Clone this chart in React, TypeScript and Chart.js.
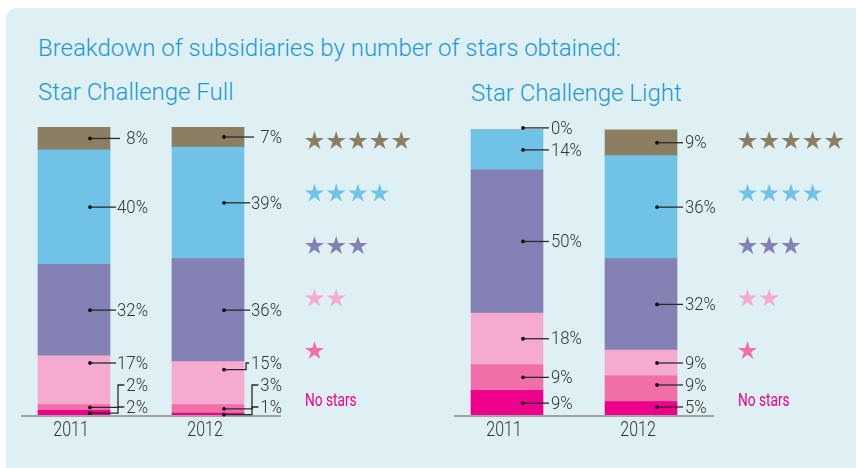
import React, { useEffect, useRef } from "react";
import { Chart, registerables } from "chart.js";

Chart.register(...registerables);

// ---- data ----
const YEARS = ["2011", "2012"];
const SERIES_NAMES = ["No stars", "1 star", "2 stars", "3 stars", "4 stars", "5 stars"];
const STAR_COUNTS = [0, 1, 2, 3, 4, 5];
const COLORS = ["#ec008c", "#f06fa8", "#f5aacf", "#8481b4", "#70c2e7", "#8c7e62"];

// Star Challenge Full (per series, [2011, 2012])
const FULL_NO_STARS = [2, 1];
const FULL_ONE_STAR = [2, 3];
const FULL_TWO_STARS = [17, 15];
const FULL_THREE_STARS = [32, 36];
const FULL_FOUR_STARS = [40, 39];
const FULL_FIVE_STARS = [8, 7];

// Star Challenge Light
const LIGHT_NO_STARS = [9, 5];
const LIGHT_ONE_STAR = [9, 9];
const LIGHT_TWO_STARS = [18, 9];
const LIGHT_THREE_STARS = [50, 32];
const LIGHT_FOUR_STARS = [14, 36];
const LIGHT_FIVE_STARS = [0, 9];

const FULL_VALUES = [FULL_NO_STARS, FULL_ONE_STAR, FULL_TWO_STARS, FULL_THREE_STARS, FULL_FOUR_STARS, FULL_FIVE_STARS];
const LIGHT_VALUES = [LIGHT_NO_STARS, LIGHT_ONE_STAR, LIGHT_TWO_STARS, LIGHT_THREE_STARS, LIGHT_FOUR_STARS, LIGHT_FIVE_STARS];

const Y_MAX = 101;

const TITLE = "Breakdown of subsidiaries by number of stars obtained:";
const SUB_FULL = "Star Challenge Full";
const SUB_LIGHT = "Star Challenge Light";

const FONT = "Roboto, 'Liberation Sans', sans-serif";
const TITLE_COLOR = "#1d9ad6";
const GAP = 22;

function drawStar(ctx: CanvasRenderingContext2D, cx: number, cy: number, R: number) {
  const r = R * 0.382;
  ctx.beginPath();
  for (let k = 0; k < 10; k++) {
    const rad = k % 2 === 0 ? R : r;
    const a = -Math.PI / 2 + (k * Math.PI) / 5;
    const px = cx + rad * Math.cos(a);
    const py = cy + rad * Math.sin(a);
    if (k === 0) ctx.moveTo(px, py);
    else ctx.lineTo(px, py);
  }
  ctx.closePath();
  ctx.fill();
}

// text drawn with a horizontal squeeze to mimic a condensed face
function condensedText(ctx: CanvasRenderingContext2D, text: string, x: number, y: number, align: CanvasTextAlign, sx: number) {
  ctx.save();
  ctx.translate(x, y);
  ctx.scale(sx, 1);
  ctx.textAlign = align;
  ctx.fillText(text, 0, 0);
  ctx.restore();
}

const LABEL_SX = 0.88;
const YEAR_SX = 0.8;
const NOSTAR_SX = 0.76;

function makePlugin(side: "left" | "right") {
  return {
    id: "segLabels" + side,
    afterDatasetsDraw(chart: any) {
      const ctx: CanvasRenderingContext2D = chart.ctx;
      const area = chart.chartArea;
      const nBars = chart.data.labels.length;
      const nSets = chart.data.datasets.length;
      ctx.save();

      // baseline
      ctx.strokeStyle = "#a3a3a3";
      ctx.lineWidth = 2;
      ctx.beginPath();
      ctx.moveTo(area.left + 14, area.bottom);
      ctx.lineTo(area.right + 6, area.bottom);
      ctx.stroke();

      // year labels
      ctx.fillStyle = "#333333";
      ctx.font = `300 20px ${FONT}`;
      ctx.textBaseline = "middle";
      for (let j = 0; j < nBars; j++) {
        const x = chart.scales.x.getPixelForValue(j);
        condensedText(ctx, String(chart.data.labels[j]), x - 3, area.bottom + 15, "center", YEAR_SX);
      }

      // segment labels
      ctx.font = `300 19px ${FONT}`;
      for (let j = 0; j < nBars; j++) {
        const segs: any[] = [];
        for (let i = 0; i < nSets; i++) {
          const el = chart.getDatasetMeta(i).data[j];
          const top = Math.min(el.y, el.base);
          const bot = Math.max(el.y, el.base);
          segs.push({ top, bot, c: (top + bot) / 2, v: chart.data.datasets[i].data[j], x: el.x, w: el.width });
        }
        let prev = area.bottom - 9 + GAP;
        segs.forEach((s) => {
          const ly = Math.min(s.c, prev - GAP);
          prev = ly;
          let dy: number;
          if (ly >= s.top + 2 && ly <= s.bot - 2) dy = ly;
          else if (s.bot - s.top > 16) dy = Math.max(s.top + 8, Math.min(s.bot - 8, ly));
          else dy = s.c;
          if (Math.abs(dy - ly) < 3) dy = ly;
          s.ly = ly;
          s.dy = dy;
        });
        segs.forEach((s) => {
          const text = `${s.v}%`;
          const tw = ctx.measureText(text).width * LABEL_SX;
          const barRight = s.x + s.w / 2;
          const dotX = s.x + 16;
          let textStart: number;
          let lineEnd: number;
          if (side === "left") {
            textStart = barRight + 38 - tw;
            lineEnd = Math.min(barRight + 10, textStart - 1);
          } else {
            textStart = barRight + 8;
            lineEnd = barRight + 6;
          }
          ctx.strokeStyle = "#2a2a2a";
          ctx.lineWidth = 1.3;
          ctx.beginPath();
          ctx.moveTo(dotX, s.dy);
          if (s.dy !== s.ly) {
            const elbowX = Math.min(barRight + 8, textStart - 5);
            ctx.lineTo(elbowX, s.dy);
            ctx.lineTo(elbowX, s.ly);
            ctx.lineTo(textStart - 2, s.ly);
          } else {
            ctx.lineTo(lineEnd, s.ly);
          }
          ctx.stroke();
          ctx.fillStyle = "#111111";
          ctx.beginPath();
          ctx.arc(dotX, s.dy, 1.9, 0, Math.PI * 2);
          ctx.fill();
          ctx.fillStyle = "#333333";
          condensedText(ctx, text, textStart, s.ly + 1, "left", LABEL_SX);
        });
      }
      ctx.restore();
    },
    afterDraw(chart: any) {
      const ctx: CanvasRenderingContext2D = chart.ctx;
      const area = chart.chartArea;
      const ds = chart.data.datasets;
      const n = ds.length;
      ctx.save();
      for (let i = n - 1; i >= 0; i--) {
        const row = n - 1 - i;
        const y = area.top + 14 + row * 52.5;
        const count = STAR_COUNTS[i];
        ctx.fillStyle = COLORS[i];
        if (count === 0) {
          ctx.font = `18px ${FONT}`;
          ctx.textBaseline = "middle";
          condensedText(ctx, ds[i].label, area.right + 30, y - 2, "left", NOSTAR_SX);
        } else {
          for (let k = 0; k < count; k++) {
            drawStar(ctx, area.right + 39.5 + k * 21.7, y, 10);
          }
        }
      }
      ctx.restore();
    },
  };
}

function StackChart({ values, left, width, padLeft, side }: { values: number[][]; left: number; width: number; padLeft: number; side: "left" | "right" }) {
  const ref = useRef<HTMLCanvasElement>(null);
  useEffect(() => {
    const chart = new Chart(ref.current as HTMLCanvasElement, {
      type: "bar",
      data: {
        labels: YEARS,
        datasets: SERIES_NAMES.map((name, i) => ({
          label: name,
          data: values[i],
          backgroundColor: COLORS[i],
          borderWidth: 0,
          barThickness: 72,
        })),
      },
      options: {
        animation: false,
        responsive: false,
        maintainAspectRatio: false,
        layout: { padding: { left: padLeft, right: width - padLeft - 268, top: 127, bottom: 52 } },
        scales: {
          x: { stacked: true, display: false },
          y: { stacked: true, display: false, min: 0, max: Y_MAX },
        },
        plugins: {
          legend: { display: false },
          tooltip: { enabled: false },
          title: { display: false },
        },
      },
      plugins: [makePlugin(side)],
    } as any);
    return () => chart.destroy();
  }, []);
  return (
    <canvas
      ref={ref}
      width={width}
      height={468}
      style={{ position: "absolute", left, top: 0, width, height: 468 }}
    />
  );
}

const textStyle = (left: number, top: number): React.CSSProperties => ({
  position: "absolute",
  left,
  top,
  fontFamily: FONT,
  fontWeight: 300,
  fontSize: 24,
  lineHeight: "24px",
  color: TITLE_COLOR,
  whiteSpace: "nowrap",
});

export default function App() {
  return (
    <div style={{ position: "absolute", left: 0, top: 0, width: 856, height: 468, overflow: "hidden", background: "#ffffff" }}>
      <div
        style={{
          position: "absolute",
          left: 6,
          top: 8,
          width: 860,
          height: 470,
          background: "#dff0f5",
          borderTopLeftRadius: 10,
        }}
      />
      <div style={textStyle(38, 35.5)}>{TITLE}</div>
      <div style={textStyle(38, 80)}>{SUB_FULL}</div>
      <div style={textStyle(471, 80.5)}>{SUB_LIGHT}</div>
      <StackChart values={FULL_VALUES} left={0} width={430} padLeft={7} side="left" />
      <StackChart values={LIGHT_VALUES} left={430} width={426} padLeft={10} side="right" />
    </div>
  );
}
